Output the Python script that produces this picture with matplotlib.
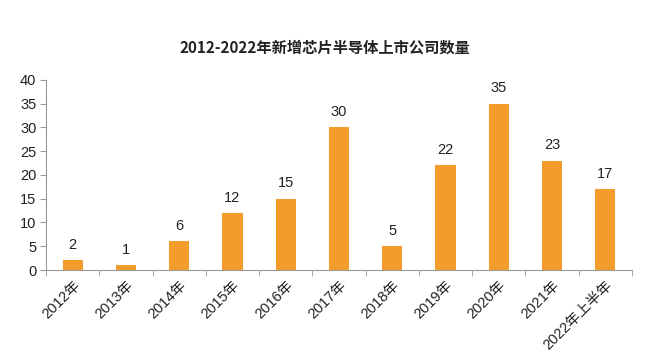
import matplotlib.pyplot as plt
import numpy as np

plt.rcParams['font.family'] = ['Liberation Sans', 'Noto Sans CJK SC']

# Data
years = ['2012年', '2013年', '2014年', '2015年', '2016年', '2017年',
         '2018年', '2019年', '2020年', '2021年', '2022年上半年']
counts = [2, 1, 6, 12, 15, 30, 5, 22, 35, 23, 17]

fig = plt.figure(figsize=(6.5, 3.6), dpi=100)
ax = fig.add_axes([0.071, 0.25, 0.901, 0.528])

x = np.arange(len(years))
ax.bar(x, counts, width=0.38, color='#F39C2C')

# value labels above bars
for xi, v in zip(x, counts):
    ax.annotate(str(v), (xi, v), textcoords='offset points', xytext=(0, 6),
                ha='center', va='bottom', fontsize=10.5, color='#222222')

ax.set_xlim(-0.5, len(years) - 0.5)
ax.set_ylim(0, 40)
ax.set_yticks(range(0, 41, 5))

# tick marks sit between categories
ax.set_xticks(x)
ax.set_xticklabels(years, rotation=45, ha='right', rotation_mode='anchor',
                   fontsize=10.5, color='#222222')
ax.tick_params(axis='x', which='major', length=0, pad=6)
ax.set_xticks(np.arange(-0.5, len(years)), minor=True)
ax.tick_params(axis='x', which='minor', length=4, color='#999999')
ax.tick_params(axis='y', length=4, color='#999999', labelsize=10.5,
               labelcolor='#222222', pad=3)

for s in ['top', 'right']:
    ax.spines[s].set_visible(False)
for s in ['left', 'bottom']:
    ax.spines[s].set_color('#999999')

fig.text(0.5, 0.868, '2012-2022年新增芯片半导体上市公司数量', ha='center',
         va='center', fontsize=11, fontweight='bold', color='#222222',
         family=['Noto Sans CJK SC', 'DejaVu Sans'])

fig.savefig('out.png', dpi=100)
plt.close(fig)
